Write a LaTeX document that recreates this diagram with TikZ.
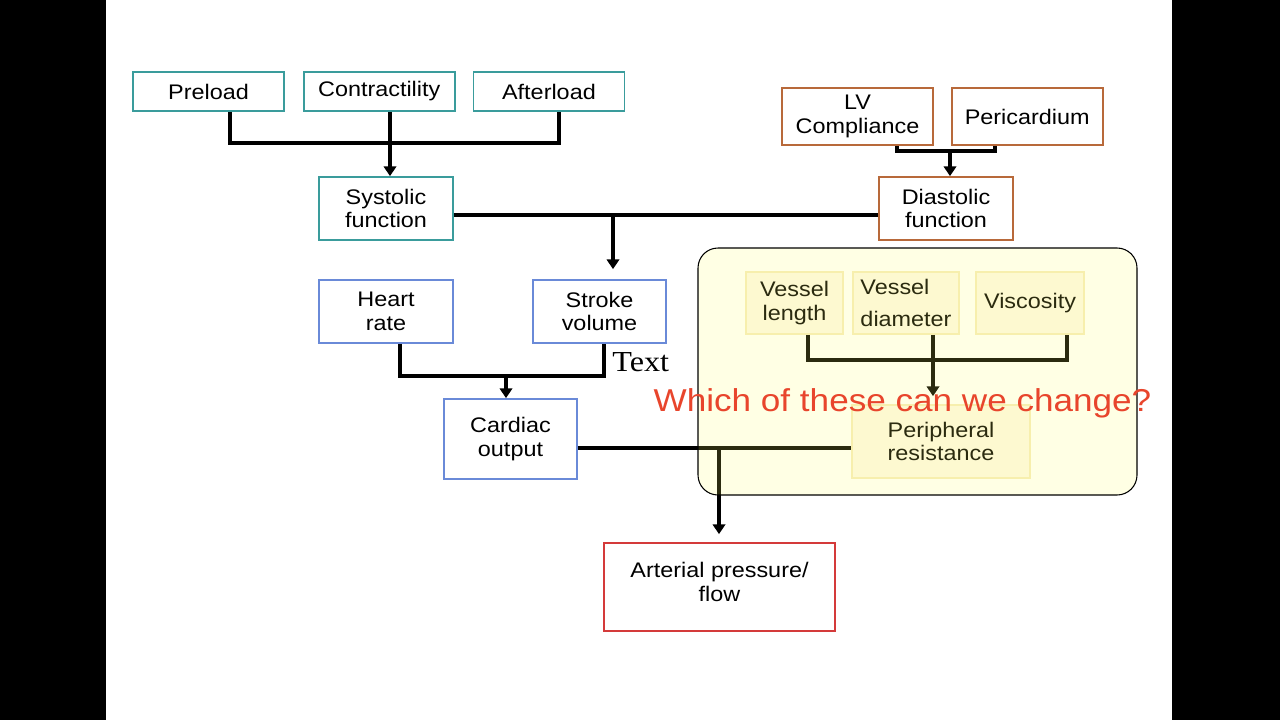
\documentclass[tikz,border=0pt]{standalone}
\usepackage{fontspec}
\setmainfont{Liberation Sans}[FakeStretch=1.11]
\newfontfamily\timesfont{Liberation Serif}[FakeStretch=1.11]
\usepackage{xcolor}
\usepackage{tikz}
\usetikzlibrary{positioning, arrows.meta}

\definecolor{tealline}{RGB}{58,156,156}
\definecolor{brownline}{RGB}{184,105,58}
\definecolor{blueline}{RGB}{106,138,216}
\definecolor{redline}{RGB}{212,58,58}
\definecolor{asktext}{RGB}{232,69,44}
\definecolor{innerfill}{RGB}{253,248,232}
\definecolor{innerline}{RGB}{246,236,190}
\definecolor{paneltint}{RGB}{255,255,94}

\begin{document}
\begin{tikzpicture}[x=0.02cm, y=-0.02cm,
    box/.style={rectangle, draw, line width=1pt, inner sep=0pt, align=center, font=\fontsize{12}{13.6}\selectfont},
    tealbox/.style={box, draw=tealline},
    brownbox/.style={box, draw=brownline},
    bluebox/.style={box, draw=blueline},
    redbox/.style={box, draw=redline},
    innerbox/.style={box, draw=innerline, fill=innerfill},
    wire/.style={line width=2.2pt},
    arrow/.style={line width=2.2pt, -{Triangle[length=5.5pt, width=7pt]}}]
    \useasboundingbox (0,0) rectangle (1280,720);
    \fill [black] (0,0) rectangle (106,720);
    \fill [black] (1172,0) rectangle (1280,720);

    \node (preload) [tealbox, minimum width=3.02cm, minimum height=0.78cm] at (208.5,91.5) {Preload};
    \node (contr) [tealbox, minimum width=3.02cm, minimum height=0.78cm, right=0.36cm of preload] {Contractility};
    \node (afterload) [tealbox, minimum width=3.02cm, minimum height=0.78cm, right=0.34cm of contr] {Afterload};
    \node (systolic) [tealbox, minimum width=2.68cm, minimum height=1.26cm] at (386,208.5) {Systolic\\function};

    \node (lvc) [brownbox, minimum width=3.02cm, minimum height=1.14cm] at (857.5,116.5) {LV\\Compliance};
    \node (peri) [brownbox, minimum width=3.02cm, minimum height=1.14cm, right=0.34cm of lvc] {Pericardium};
    \node (diastolic) [brownbox, minimum width=2.68cm, minimum height=1.26cm] at (946,208.5) {Diastolic\\function};

    \node (hr) [bluebox, minimum width=2.68cm, minimum height=1.26cm] at (386,311.5) {Heart\\rate};
    \node (sv) [bluebox, minimum width=2.66cm, minimum height=1.26cm] at (599.5,311.5) {Stroke\\volume};
    \node (co) [bluebox, minimum width=2.66cm, minimum height=1.6cm] at (510.5,439) {Cardiac\\output};
    \node (ap) [redbox, minimum width=4.62cm, minimum height=1.76cm] at (719.5,587) {Arterial pressure/\\flow\\[-8pt]};

    \node (vlen) [innerbox, minimum width=1.94cm, minimum height=1.24cm] at (794.5,303) {Vessel\\length};
    \node (vdiam) [innerbox, align=left, minimum width=2.12cm, minimum height=1.24cm] at (906,303) {Vessel\\[4.7pt]diameter};
    \node (visc) [innerbox, minimum width=2.16cm, minimum height=1.24cm] at (1030,303) {Viscosity};
    \node (pr) [innerbox, minimum width=3.56cm, minimum height=1.46cm] at (941,441.5) {Peripheral\\resistance};

    \coordinate (sysL) at (230,143);
    \coordinate (sysM) at (390,143);
    \coordinate (sysR) at (559,143);
    \coordinate (diaL) at (897,151);
    \coordinate (diaM) at (950,151);
    \coordinate (diaR) at (995,151);
    \coordinate (svM) at (613,215);
    \coordinate (coL) at (400,376);
    \coordinate (coM) at (506,376);
    \coordinate (coR) at (604,376);
    \coordinate (prL) at (808,360);
    \coordinate (prM) at (933,360);
    \coordinate (prR) at (1067,360);
    \coordinate (apM) at (719,448);

    \draw [wire] (preload.south -| sysL) -- (sysL) -- (sysR) -- (afterload.south -| sysR);
    \draw [arrow] (contr.south -| sysM) -- (systolic.north -| sysM);
    \draw [wire] (lvc.south -| diaL) -- (diaL) -- (diaR) -- (peri.south -| diaR);
    \draw [arrow] (diaM) -- (diastolic.north -| diaM);
    \draw [wire] (systolic.east |- svM) -- (diastolic.west |- svM);
    \draw [arrow, shorten >=0.2cm] (svM) -- (sv.north -| svM);
    \draw [wire] (hr.south -| coL) -- (coL) -- (coR) -- (sv.south -| coR);
    \draw [arrow] (coM) -- (co.north -| coM);
    \draw [wire] (vlen.south -| prL) -- (prL) -- (prR) -- (visc.south -| prR);
    \draw [arrow, shorten >=0.16cm] (vdiam.south -| prM) -- (pr.north -| prM);
    \draw [wire] (co.east |- apM) -- (pr.west |- apM);
    \draw [arrow, shorten >=0.16cm] (apM) -- (ap.north -| apM);

    \fill [paneltint, fill opacity=0.17, rounded corners=0.4cm] (698,248) rectangle (1137,495);
    \draw [line width=0.6pt, rounded corners=0.4cm] (698,248) rectangle (1137,495);

    \node (ask) [anchor=base, inner sep=0pt, text=asktext, font=\fontsize{18}{22}\selectfont] at (902.5,411) {Which of these can we change?};
    \node (note) [anchor=base west, inner sep=0pt, font=\timesfont\fontsize{16.5}{20}\selectfont] at (612,371) {Text};
\end{tikzpicture}
\end{document}
